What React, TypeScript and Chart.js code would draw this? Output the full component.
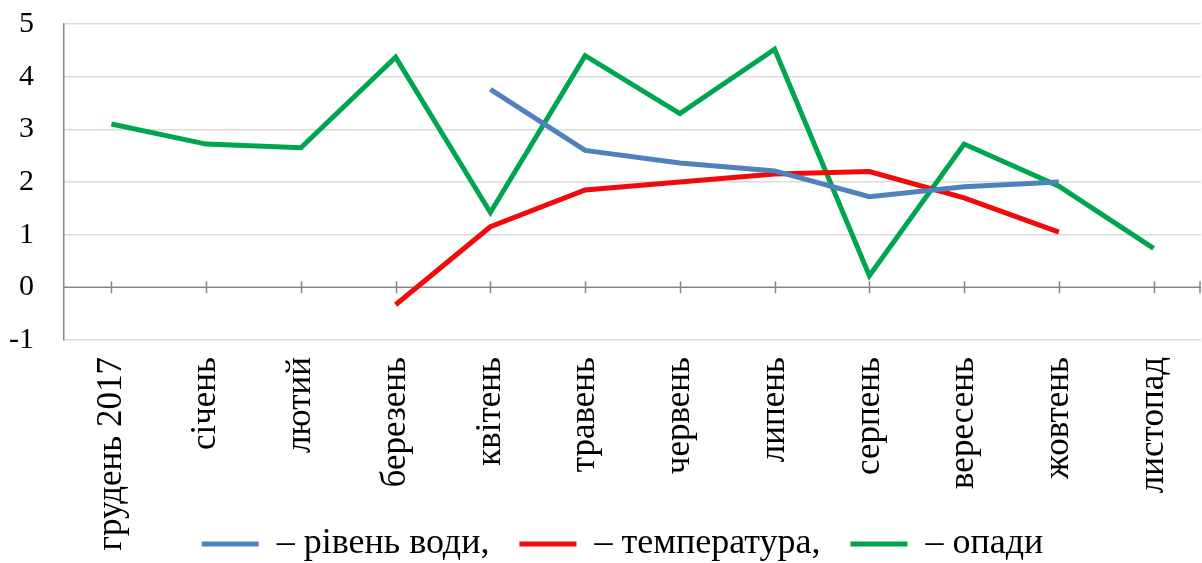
import { useEffect, useRef } from "react";
import { Chart, registerables } from "chart.js";

Chart.register(...registerables);

const categories = [
  "грудень 2017",
  "січень",
  "лютий",
  "березень",
  "квітень",
  "травень",
  "червень",
  "липень",
  "серпень",
  "вересень",
  "жовтень",
  "листопад",
];
const waterLevel = [null, null, null, null, 3.76, 2.6, 2.36, 2.21, 1.72, 1.91, 2.0, null];
const temperature = [null, null, null, -0.33, 1.15, 1.85, 2.0, 2.15, 2.2, 1.7, 1.05, null];
const precipitation = [3.1, 2.72, 2.65, 4.37, 1.42, 4.4, 3.3, 4.52, 0.22, 2.72, 1.92, 0.74];
const seriesLabels = ["– рівень води,", "– температура,", "– опади"];
const yMin = -1;
const yMax = 5;

const FONT = "'Liberation Serif', 'Times New Roman', serif";

const zeroAxisPlugin = {
  id: "zeroAxis",
  beforeDatasetsDraw(chart: any) {
    const { ctx, chartArea, scales } = chart;
    const xs = scales.x;
    const ys = scales.y;
    const y0 = ys.getPixelForValue(0);
    ctx.save();
    ctx.strokeStyle = "#878787";
    ctx.lineWidth = 1.5;
    ctx.beginPath();
    ctx.moveTo(chartArea.left, y0);
    ctx.lineTo(chartArea.right, y0);
    for (let i = 0; i < categories.length; i++) {
      const px = Math.round(xs.getPixelForValue(i)) + 0.5;
      ctx.moveTo(px, y0 - 6);
      ctx.lineTo(px, y0 + 6);
    }
    ctx.moveTo(chartArea.right - 1, y0 - 6);
    ctx.lineTo(chartArea.right - 1, y0 + 6);
    ctx.stroke();
    ctx.restore();
  },
};

const legendShiftPlugin = {
  id: "legendShift",
  afterLayout(chart: any) {
    const lg = chart.legend;
    if (lg) {
      lg.top += 9;
      lg.bottom += 9;
      lg.left += 22;
      lg.right += 22;
    }
  },
};

export default function App() {
  const ref = useRef<HTMLCanvasElement | null>(null);

  useEffect(() => {
    document.body.style.margin = "0";
    const canvas = ref.current;
    if (!canvas) return;
    const chart = new Chart(canvas, {
      type: "line",
      data: {
        labels: categories,
        datasets: [
          {
            label: seriesLabels[0],
            data: waterLevel,
            borderColor: "#4F81BD",
            backgroundColor: "#4F81BD",
            borderWidth: 5,
            pointRadius: 0,
            tension: 0,
          },
          {
            label: seriesLabels[1],
            data: temperature,
            borderColor: "#F00A0A",
            backgroundColor: "#F00A0A",
            borderWidth: 5,
            pointRadius: 0,
            tension: 0,
          },
          {
            label: seriesLabels[2],
            data: precipitation,
            borderColor: "#00A550",
            backgroundColor: "#00A550",
            borderWidth: 5,
            pointRadius: 0,
            tension: 0,
          },
        ],
      },
      options: {
        animation: false,
        responsive: false,
        maintainAspectRatio: false,
        layout: { padding: { top: 24, right: 1, left: 0, bottom: 0 } },
        plugins: {
          tooltip: { enabled: false },
          legend: {
            position: "bottom",
            labels: {
              boxWidth: 57,
              boxHeight: 5,
              padding: 30,
              color: "#000",
              font: { family: FONT, size: 36 },
              generateLabels(chart: any) {
                const items = Chart.defaults.plugins.legend.labels.generateLabels(chart);
                return items.map((it: any) => ({ ...it, lineWidth: 0 }));
              },
            },
          },
        },
        scales: {
          x: {
            type: "category",
            offset: true,
            grid: { display: false, drawTicks: false },
            border: { display: false },
            ticks: {
              color: "#000",
              font: { family: FONT, size: 35 },
              minRotation: 90,
              maxRotation: 90,
              autoSkip: false,
              padding: 17,
            },
            afterFit(scale: any) {
              scale.height = 147;
              scale.paddingLeft = 0;
              scale.paddingRight = 0;
              scale._computeLabelArea = () => undefined;
            },
          },
          y: {
            type: "linear",
            min: yMin,
            max: yMax,
            grid: {
              drawTicks: false,
              color: (c: any) => (c.tick && c.tick.value === 0 ? "rgba(0,0,0,0)" : "#DCDCD4"),
              lineWidth: 1.5,
            },
            border: { display: true, color: "#878787", width: 1.5 },
            ticks: {
              stepSize: 1,
              color: "#000",
              font: { family: FONT, size: 30 },
              padding: 30,
            },
            afterFit(scale: any) {
              scale.width = 64;
              scale.paddingTop = 0;
              scale.paddingBottom = 0;
            },
          },
        },
      },
      plugins: [zeroAxisPlugin, legendShiftPlugin],
    });
    return () => chart.destroy();
  }, []);

  return (
    <div style={{ width: 1202, height: 563 }}>
      <canvas ref={ref} width={1202} height={563} style={{ display: "block" }} />
    </div>
  );
}
